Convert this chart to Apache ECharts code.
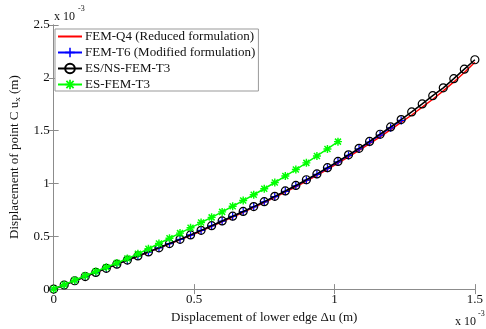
<!DOCTYPE html>
<html><head><meta charset="utf-8">
<script src="https://cdn.jsdelivr.net/npm/echarts@6/dist/echarts.min.js"></script>
<style>html,body{margin:0;padding:0;background:#fff}#c{width:486px;height:329px}</style>
</head><body><div id="c"></div>
<script>
// x values in units of 1e-3 m
const xValues = [0, 0.0375, 0.075, 0.1125, 0.15, 0.1875, 0.225, 0.2625, 0.3, 0.3375, 0.375, 0.4125, 0.45, 0.4875, 0.525, 0.5625, 0.6, 0.6375, 0.675, 0.7125, 0.75, 0.7875, 0.825, 0.8625, 0.9, 0.9375, 0.975, 1.0125, 1.05, 1.0875, 1.125, 1.1625, 1.2, 1.2375, 1.275, 1.3125, 1.35, 1.3875, 1.425, 1.4625, 1.5];
// y values in units of 1e-3 m
const femQ4 = [0, 0.039, 0.078, 0.117, 0.156, 0.195, 0.234, 0.273, 0.311, 0.349, 0.388, 0.427, 0.467, 0.508, 0.550, 0.594, 0.638, 0.682, 0.727, 0.773, 0.819, 0.868, 0.918, 0.969, 1.022, 1.076, 1.133, 1.192, 1.252, 1.313, 1.376, 1.442, 1.509, 1.578, 1.648, 1.722, 1.797, 1.877, 1.961, 2.051, 2.147];
const femT6 = [0, 0.039, 0.079, 0.118, 0.157, 0.196, 0.235, 0.274, 0.313, 0.351, 0.390, 0.430, 0.470, 0.512, 0.555, 0.599, 0.643, 0.688, 0.733, 0.779, 0.826, 0.875, 0.926, 0.978, 1.031, 1.086, 1.144, 1.204, 1.265, 1.327, 1.391, 1.458, 1.527, 1.597];
const esnsFemT3 = [0, 0.039, 0.079, 0.119, 0.158, 0.197, 0.236, 0.275, 0.314, 0.352, 0.391, 0.431, 0.471, 0.513, 0.556, 0.600, 0.645, 0.690, 0.735, 0.781, 0.828, 0.878, 0.929, 0.981, 1.035, 1.090, 1.149, 1.209, 1.271, 1.333, 1.398, 1.466, 1.535, 1.605, 1.677, 1.753, 1.831, 1.905, 1.992, 2.082, 2.171];
const esFemT3 = [0, 0.042, 0.084, 0.126, 0.167, 0.207, 0.247, 0.289, 0.334, 0.382, 0.432, 0.481, 0.530, 0.580, 0.630, 0.679, 0.731, 0.784, 0.838, 0.893, 0.950, 1.009, 1.070, 1.132, 1.195, 1.260, 1.327, 1.396];
const seriesNames = ['FEM-Q4 (Reduced formulation)', 'FEM-T6 (Modified formulation)', 'ES/NS-FEM-T3', 'ES-FEM-T3'];
const xTicks = [0, 0.5, 1, 1.5];
const yTicks = [0, 0.5, 1, 1.5, 2, 2.5];

function pairs(ys) { return ys.map((y, i) => [xValues[i], y]); }

const FONT = '"Liberation Serif", "Times New Roman", serif';
const AX = '#8c8c8c';
const plusPath = 'path://M4.2,0H5.8V4.2H10V5.8H5.8V10H4.2V5.8H0V4.2H4.2Z';
const starPath = 'path://M4.1,0H5.9V10H4.1Z M0,4.1H10V5.9H0Z M0.6,1.9L1.9,0.6L9.4,8.1L8.1,9.4Z M8.1,0.6L9.4,1.9L1.9,9.4L0.6,8.1Z';

const chart = echarts.init(document.getElementById('c'), null, {renderer: 'canvas'});
const axisCommon = {
  type: 'value', splitLine: {show: false},
  axisLine: {show: true, lineStyle: {color: AX, width: 1}},
  axisTick: {show: true, inside: true, length: 5, lineStyle: {color: AX}},
};
chart.setOption({
  animation: false,
  backgroundColor: '#fff',
  grid: {left: 52, right: 7, top: 25, bottom: 33},
  legend: {
    orient: 'vertical', left: 55, top: 29,
    backgroundColor: '#fff', borderColor: '#999', borderWidth: 1, borderRadius: 0,
    padding: [1, 3, 0, 2], itemGap: 3, itemWidth: 24, itemHeight: 12,
    textStyle: {fontFamily: FONT, fontSize: 13, color: '#111', padding: [0, 0, 0, -2]},
    data: [
      {name: seriesNames[0], itemStyle: {opacity: 0}},
      seriesNames[1], seriesNames[2], seriesNames[3]
    ]
  },
  xAxis: [
    Object.assign({}, axisCommon, {min: 0, max: 1.5, interval: 0.5, position: 'bottom',
      axisLabel: {fontFamily: FONT, fontSize: 13, color: '#111', margin: 4,
        formatter: v => xTicks.includes(v) ? String(v) : ''},
      name: 'Displacement of lower edge \u0394u (m)', nameLocation: 'middle', nameGap: 18,
      nameTextStyle: {fontFamily: FONT, fontSize: 13, color: '#111'}}),
    Object.assign({}, axisCommon, {min: 0, max: 1.5, interval: 0.5, position: 'top', axisLabel: {show: false}})
  ],
  yAxis: [
    Object.assign({}, axisCommon, {min: 0, max: 2.5, interval: 0.5, position: 'left',
      axisLabel: {fontFamily: FONT, fontSize: 13, color: '#111', margin: 4,
        formatter: v => yTicks.includes(v) ? String(v) : ''},
      name: 'Displacement of point C u{sub|x} (m)', nameLocation: 'middle', nameGap: 30,
      nameTextStyle: {fontFamily: FONT, fontSize: 13, color: '#111',
        rich: {sub: {fontFamily: FONT, fontSize: 9, color: '#111', padding: [7, 0, 0, 0]}}}}),
    Object.assign({}, axisCommon, {min: 0, max: 2.5, interval: 0.5, position: 'right', axisLabel: {show: false}})
  ],
  graphic: [
    {type: 'text', left: 54, top: 11, style: {text: 'x 10', fontFamily: FONT, fontSize: 12, fill: '#111'}},
    {type: 'text', left: 78, top: 5, style: {text: '-3', fontFamily: FONT, fontSize: 8, fill: '#111'}},
    {type: 'text', left: 455, top: 316, style: {text: 'x 10', fontFamily: FONT, fontSize: 12, fill: '#111'}},
    {type: 'text', left: 478, top: 310, style: {text: '-3', fontFamily: FONT, fontSize: 8, fill: '#111'}}
  ],
  series: [
    {name: seriesNames[0], type: 'line', data: pairs(femQ4), showSymbol: false, symbol: 'none',
      lineStyle: {color: '#ff0000', width: 1.5}, itemStyle: {color: '#ff0000'}, z: 2},
    {name: seriesNames[1], type: 'line', data: pairs(femT6), symbol: plusPath, symbolSize: 8, showSymbol: true,
      lineStyle: {color: '#0000ff', width: 1.2}, itemStyle: {color: '#0000ff'}, z: 3},
    {name: seriesNames[2], type: 'line', data: pairs(esnsFemT3), symbol: 'circle', symbolSize: 8, showSymbol: true,
      lineStyle: {color: '#000', width: 1.5}, itemStyle: {color: 'rgba(0,0,0,0)', borderColor: '#000', borderWidth: 1.2}, z: 4},
    {name: seriesNames[3], type: 'line', data: pairs(esFemT3), symbol: starPath, symbolSize: 8, showSymbol: true,
      lineStyle: {color: '#00ff00', width: 1.5}, itemStyle: {color: '#00ff00'}, z: 5}
  ]
});
</script></body></html>
